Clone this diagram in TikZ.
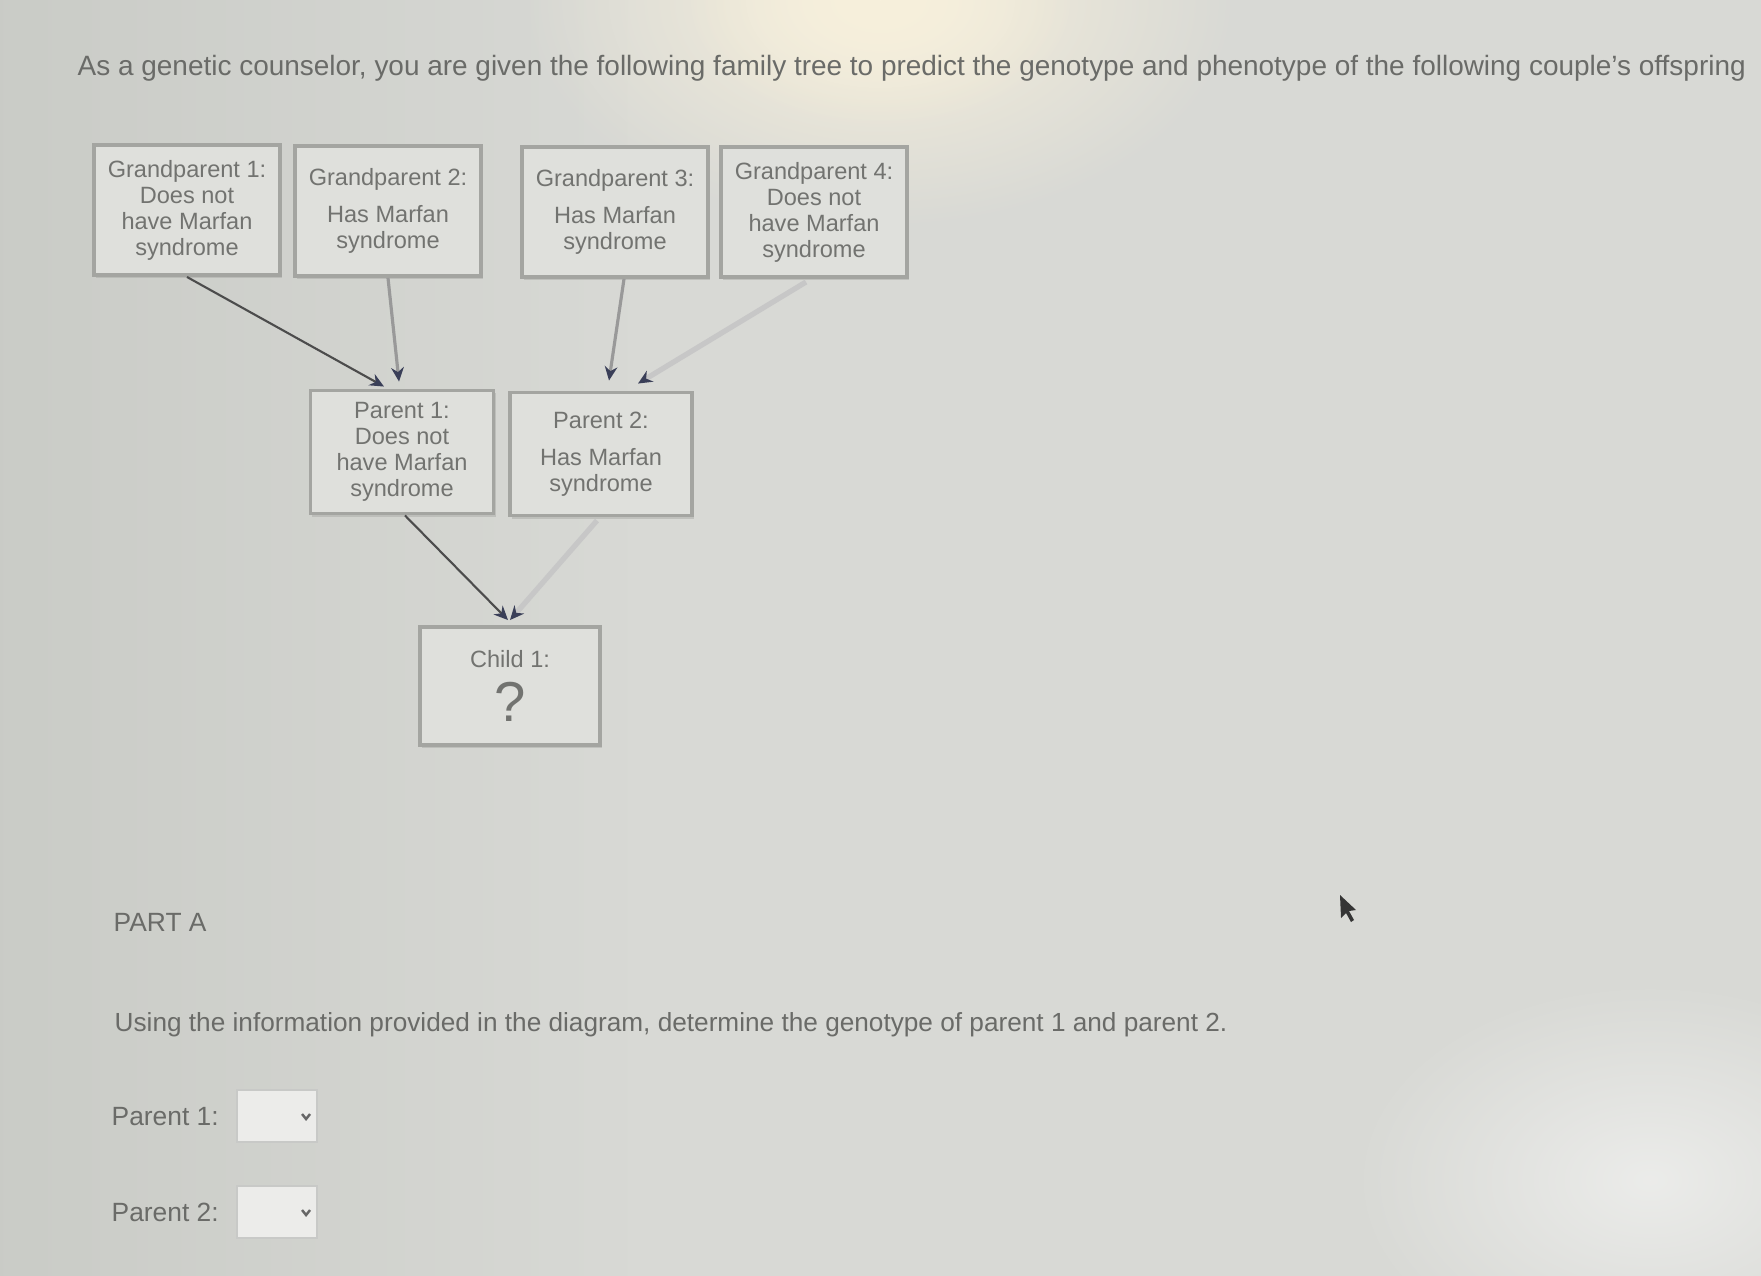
\documentclass[tikz,border=0pt]{standalone}
\usepackage{fontspec}
\setmainfont{Liberation Sans}
\usetikzlibrary{calc,arrows.meta,fadings,shadows}

\definecolor{bgcol}{HTML}{D8D9D5}
\definecolor{bgleft}{HTML}{C9CBC6}
\definecolor{glarecol}{HTML}{F7F0DC}
\definecolor{boxfill}{HTML}{DFE0DC}
\definecolor{boxline}{HTML}{A4A5A1}
\definecolor{boxtext}{HTML}{727370}
\definecolor{headtext}{HTML}{6A6B68}
\definecolor{tipcol}{HTML}{3A3F58}
\definecolor{cursorcol}{HTML}{353535}

\tikzfading[name=glowfade,inner color=transparent!0,outer color=transparent!100]

\begin{document}
\begin{tikzpicture}[x=0.01cm,y=-0.01cm,
	famBox/.style={draw=boxline,line width=1.1pt,fill=boxfill,inner sep=0pt,
		minimum width=1.86cm,minimum height=1.3cm,align=center,text=boxtext,
		font=\fontsize{6.7}{7.4}\selectfont,
		drop shadow={shadow xshift=0.02cm,shadow yshift=-0.03cm,fill=boxline,opacity=.45}},
	pageText/.style={anchor=west,inner sep=0pt,text=headtext,font=\fontsize{7.5}{9}\selectfont},
	pickBox/.style={draw=boxline!60,line width=.6pt,fill=boxfill!60!white,minimum width=.8cm,minimum height=.52cm,inner sep=0pt},
	lineDark/.style={draw=black!70,line width=.6pt,-{Stealth[length=4pt,width=3.6pt,color=tipcol]}},
	lineMid/.style={draw=black!40,line width=.9pt,-{Stealth[length=4pt,width=3.6pt,color=tipcol]}},
	lineLight/.style={draw=black!22,line width=1.5pt,-{Stealth[length=4pt,width=3.6pt,color=tipcol]}}]

	\useasboundingbox (0,0) rectangle (1761,1275);
	\clip (-20,-20) rectangle (1781,1295);

	% screen and glare
	\fill[bgcol] (-20,-20) rectangle (1781,1295);
	\shade[left color=bgleft,right color=bgcol] (-20,-20) rectangle (650,1295);
	\fill[glarecol,path fading=glowfade] (880,0) ellipse [x radius=3.6cm,y radius=2.3cm];
	\fill[glarecol,path fading=glowfade] (880,0) ellipse [x radius=2cm,y radius=1.3cm];
	\fill[white,opacity=.5,path fading=glowfade] (1650,1180) ellipse [x radius=3cm,y radius=2cm];

	\coordinate (G1) at (187,210);
	\coordinate (G2) at (388,211);
	\coordinate (G3) at (615,212);
	\coordinate (G4) at (814,212);
	\coordinate (P1) at (402,452);
	\coordinate (P2) at (601,454);
	\coordinate (C1) at (510,686);

	\node[pageText,font=\fontsize{7.95}{9}\selectfont] (head) at (77,68)
		{As a genetic counselor, you are given the following family tree to predict the genotype and phenotype of the following couple's offspring};

	\node[famBox] (gp1) at (G1) {Grandparent 1:\\Does not\\have Marfan\\syndrome};
	\node[famBox] (gp2) at (G2) {Grandparent 2:\\[3pt]Has Marfan\\syndrome};
	\node[famBox] (gp3) at (G3) {Grandparent 3:\\[3pt]Has Marfan\\syndrome};
	\node[famBox] (gp4) at (G4) {Grandparent 4:\\Does not\\have Marfan\\syndrome};
	\node[famBox,minimum width=1.83cm,minimum height=1.23cm] (p1) at (P1) {Parent 1:\\Does not\\have Marfan\\syndrome};
	\node[famBox,minimum width=1.82cm,minimum height=1.23cm] (p2) at (P2) {Parent 2:\\[3pt]Has Marfan\\syndrome};
	\node[famBox,minimum width=1.8cm,minimum height=1.18cm] (child) at (C1)
		{Child 1:\\[3pt]{\fontsize{16}{16}\selectfont ?}};

	\draw[lineDark] (gp1.south) -- ($(p1.north)+(-18,-2)$);
	\draw[lineMid] (gp2.south) -- ($(p1.north)+(-3,-7)$);
	\draw[lineMid] ($(gp3.south)+(9,0)$) -- ($(p2.north)+(8,-10)$);
	\draw[lineLight] ($(gp4.south)+(-8,3)$) -- ($(p2.north)+(37,-7)$);
	\draw[lineDark] ($(p1.south)+(3,0)$) -- ($(child.north)+(-2,-5)$);
	\draw[lineLight] ($(p2.south)+(-4,3)$) -- ($(child.north)+(0,-5)$);

	\node[pageText] (partA) at (113,922) {PART A};
	\node[pageText,font=\fontsize{7.45}{9}\selectfont] (quest) at (114,1025)
		{Using the information provided in the diagram, determine the genotype of parent 1 and parent 2.};

	\node[pageText] (lbl1) at (111,1117) {Parent 1:};
	\node[pickBox] (pick1) at (277,1116) {};
	\draw[black!60,line width=.7pt] ($(pick1.east)+(-16,-2)$) -- ++(4,5) -- ++(4,-5);
	\node[pageText] (lbl2) at (111,1212) {Parent 2:};
	\node[pickBox] (pick2) at (277,1212) {};
	\draw[black!60,line width=.7pt] ($(pick2.east)+(-16,-2)$) -- ++(4,5) -- ++(4,-5);

	% mouse pointer
	\fill[cursorcol] (1340,895) -- (1341,918) -- (1346,913) -- (1351,922) -- (1354,920)
		-- (1349,911) -- (1356,910) -- cycle;
\end{tikzpicture}
\end{document}
